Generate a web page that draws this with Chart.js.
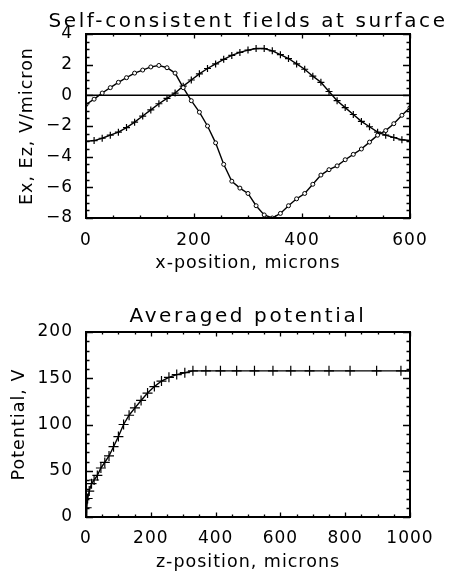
<!DOCTYPE html>
<html>
<head>
<meta charset="utf-8">
<script src="https://cdn.jsdelivr.net/npm/chart.js@4.4.1/dist/chart.umd.min.js"></script>
<style>
  html, body { margin: 0; background: #fff; overflow: hidden; }
  canvas { position: absolute; left: 0; }
  #fields { top: 0; }
  #potential { top: 285px; }
</style>
</head>
<body>
<!-- canvases are wider than the window so the titles centre over the plot box -->
<canvas id="fields" width="496" height="285"></canvas>
<canvas id="potential" width="496" height="288"></canvas>
<script>
// Surface fields, sampled along x (microns)
const xPos = [0, 15, 30, 45, 60, 75, 90, 105, 120, 135, 150, 165, 180, 195, 210, 225, 240, 255, 270, 285,
  300, 315, 330, 345, 360, 375, 390, 405, 420, 435, 450, 465, 480, 495, 510, 525, 540, 555, 570, 585, 600];
const exField = [-0.6, -0.25, 0.15, 0.5, 0.85, 1.15, 1.45, 1.65, 1.85, 1.95, 1.8, 1.45, 0.5, -0.35, -1.1, -2.0, -3.1, -4.5, -5.6, -6.05,
  -6.4, -7.2, -7.8, -8.0, -7.7, -7.2, -6.75, -6.4, -5.8, -5.2, -4.85, -4.6, -4.2, -3.85, -3.5, -3.05, -2.6, -2.3, -1.85, -1.3, -0.8];
const ezField = [-3.0, -2.95, -2.8, -2.6, -2.4, -2.1, -1.75, -1.35, -0.95, -0.55, -0.2, 0.15, 0.6, 1.0, 1.4, 1.75, 2.05, 2.35, 2.6, 2.8,
  2.95, 3.05, 3.05, 2.9, 2.65, 2.4, 2.05, 1.7, 1.25, 0.85, 0.25, -0.35, -0.8, -1.25, -1.7, -2.05, -2.4, -2.6, -2.75, -2.9, -2.95];
const zeroX = [0, 600];
const zeroY = [0, 0];

// Averaged potential vs depth z (microns)
const zPos = [0, 2, 5, 10, 17, 25, 35, 46, 58, 71, 85, 100, 116, 133, 151, 170, 190, 211, 233, 256,
  280, 305, 330, 370, 415, 465, 520, 577, 632, 690, 750, 815, 897, 972, 1000];
const potential = [0, 10, 20, 28, 36, 40, 45, 53, 59, 66, 76, 87, 100, 110, 118, 126, 134, 141, 147, 151,
  154, 156, 158, 158, 158, 158, 158, 158, 158, 158, 158, 158, 158, 158, 158];

// tick labels
const fieldXTicks = [0, 200, 400, 600];
const fieldYTicks = [-8, -6, -4, -2, 0, 2, 4];
const potXTicks = [0, 200, 400, 600, 800, 1000];
const potYTicks = [0, 50, 100, 150, 200];

const pts = (xs, ys) => xs.map((x, i) => ({ x: x, y: ys[i] }));
const minus = v => String(v).replace("-", "\u2212");

// IDL style box: frame on all four sides with inward major and minor ticks
const frame = {
  id: "frame",
  beforeUpdate(chart) { chart.ctx.letterSpacing = "1px"; },
  beforeDraw(chart) { chart.ctx.letterSpacing = "1px"; },
  afterInit(chart) {
    const tb = chart.titleBlock;
    const draw = tb.draw;
    tb.draw = function (area) {
      chart.ctx.letterSpacing = "2.6px";
      draw.call(tb, area);
      chart.ctx.letterSpacing = "1px";
    };
  },
  afterDraw(chart, args, opts) {
    const { ctx, chartArea: a, scales } = chart;
    const x = scales.x, y = scales.y;
    const xMajor = x.ticks.map(t => t.value), yMajor = y.ticks.map(t => t.value);
    ctx.save();
    ctx.strokeStyle = "#000";
    ctx.lineWidth = 1.3;
    ctx.beginPath();
    for (let v = x.min; v <= x.max + 1e-6; v += opts.xMinor) {
      const p = Math.round(x.getPixelForValue(v)) + 0.5;
      const len = xMajor.includes(v) ? 4.5 : 2.5;
      ctx.moveTo(p, a.bottom); ctx.lineTo(p, a.bottom - len);
      ctx.moveTo(p, a.top); ctx.lineTo(p, a.top + len);
    }
    for (let v = y.min; v <= y.max + 1e-6; v += opts.yMinor) {
      const p = Math.round(y.getPixelForValue(v)) + 0.5;
      const len = yMajor.includes(v) ? 7 : 3.5;
      ctx.moveTo(a.left, p); ctx.lineTo(a.left + len, p);
      ctx.moveTo(a.right, p); ctx.lineTo(a.right - len, p);
    }
    ctx.stroke();
    ctx.lineWidth = 2;
    ctx.strokeRect(a.left, a.top, a.right - a.left, a.bottom - a.top);
    ctx.restore();
  }
};

Chart.defaults.font.family = "'DejaVu Sans', sans-serif";
Chart.defaults.color = "#000";

function axis(min, max, tickVals, size, pad, title, titlePad) {
  return {
    type: "linear",
    min: min,
    max: max,
    grid: { display: false },
    border: { display: false },
    afterBuildTicks: s => { s.ticks = tickVals.map(v => ({ value: v })); },
    afterFit: s => { if (s.isHorizontal()) s.height = size; else s.width = size; },
    ticks: {
      autoSkip: false,
      maxRotation: 0,
      padding: pad,
      font: { size: 17 },
      callback: v => minus(v),
    },
    title: { display: true, text: title, font: { size: 17.5 }, padding: titlePad },
  };
}

// empty right-hand axis, only reserves the margin right of the plot box
const spacer = {
  position: "right",
  grid: { display: false },
  border: { display: false },
  ticks: { display: false },
  afterFit: s => { s.width = 86; },
};

new Chart(document.getElementById("fields").getContext("2d"), {
  type: "line",
  data: {
    datasets: [
      {
        data: pts(xPos, exField),
        borderColor: "#000",
        borderWidth: 1.4,
        pointStyle: "circle",
        pointRadius: 2,
        pointBorderWidth: 1,
        pointBackgroundColor: "#fff",
        pointBorderColor: "#000",
      },
      {
        data: pts(xPos, ezField),
        borderColor: "#000",
        borderWidth: 1.4,
        pointStyle: "cross",
        pointRadius: 3.5,
        pointBorderWidth: 1.2,
        pointBorderColor: "#000",
      },
      {
        data: pts(zeroX, zeroY),
        borderColor: "#000",
        borderWidth: 1.5,
        pointRadius: 0,
      },
    ],
  },
  options: {
    responsive: false,
    animation: false,
    devicePixelRatio: 1,
    layout: { padding: 0 },
    plugins: {
      legend: { display: false },
      tooltip: { enabled: false },
      title: {
        display: true,
        text: "Self-consistent fields at surface",
        font: { size: 20, weight: "normal" },
        padding: { top: 10, bottom: 0 },
      },
      frame: { xMinor: 50, yMinor: 0.5 },
    },
    scales: {
      x: axis(0, 600, fieldXTicks, 67, 4, "x-position, microns", { top: 0, bottom: 11.5 }),
      y: axis(-8, 4, fieldYTicks, 86, 5, "Ex, Ez, V/micron", { top: 17, bottom: 0 }),
      y2: spacer,
    },
  },
  plugins: [frame],
});

new Chart(document.getElementById("potential").getContext("2d"), {
  type: "line",
  data: {
    datasets: [
      {
        data: pts(zPos, potential),
        borderColor: "#000",
        borderWidth: 1.4,
        pointStyle: "cross",
        pointRadius: 5,
        pointBorderWidth: 1.2,
        pointBorderColor: "#000",
      },
    ],
  },
  options: {
    responsive: false,
    animation: false,
    devicePixelRatio: 1,
    layout: { padding: 0 },
    plugins: {
      legend: { display: false },
      tooltip: { enabled: false },
      title: {
        display: true,
        text: "Averaged potential",
        font: { size: 20, weight: "normal" },
        padding: { top: 20, bottom: 3 },
      },
      frame: { xMinor: 50, yMinor: 10 },
    },
    scales: {
      x: axis(0, 1000, potXTicks, 56, 3, "z-position, microns", { top: 0, bottom: 0 }),
      y: axis(0, 200, potYTicks, 86, 5, "Potential, V", { top: 9, bottom: 0 }),
      y2: spacer,
    },
  },
  plugins: [frame],
});
</script>
</body>
</html>
